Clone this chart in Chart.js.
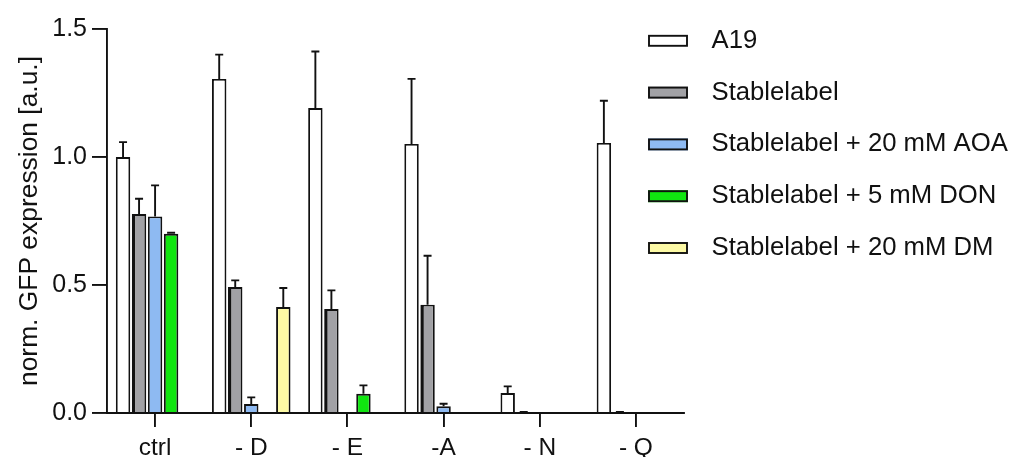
<!DOCTYPE html>
<html>
<head>
<meta charset="utf-8">
<title>GFP expression</title>
<script src="https://cdn.jsdelivr.net/npm/chart.js@4"></script>
<style>
  html, body { margin: 0; padding: 0; background: #fff; }
  #wrap { width: 1011px; height: 457px; }
</style>
</head>
<body>
<div id="wrap"><canvas id="chart"></canvas></div>
<script>
'use strict';

// amino acid dropout conditions
var conditions = ['ctrl', '- D', '- E', '-A', '- N', '- Q'];
var yTicks = [0, 0.5, 1.0, 1.5];

// mean values, null = not measured
var a19 = [1.00, 1.305, 1.191, 1.051, 0.078, 1.055];
var stablelabel = [0.777, 0.492, 0.406, 0.423, 0, 0];
var aoa = [0.768, 0.035, null, 0.026, null, null];
var don = [0.700, null, 0.075, null, null, null];
var dm = [null, 0.414, null, null, null, null];

// upper error (SD)
var a19Err = [0.058, 0.095, 0.221, 0.254, 0.026, 0.165];
var stablelabelErr = [0.060, 0.026, 0.073, 0.191, 0.004, 0.004];
var aoaErr = [0.121, 0.026, null, 0.010, null, null];
var donErr = [0.004, null, 0.033, null, null, null];
var dmErr = [null, 0.074, null, null, null, null];

Chart.defaults.font.family = "'Liberation Sans', Arial, sans-serif";
Chart.defaults.color = '#111';

function dataset(label, data, errors, color, leftBorder) {
    return {
        label: label,
        data: data,
        errors: errors,
        backgroundColor: color,
        borderColor: '#111',
        borderWidth: { top: 1.9, right: 1.9, bottom: 0, left: leftBorder || 1.9 },
        borderSkipped: false
    };
}

var errorBars = {
    id: 'errorBars',
    afterDatasetsDraw: function (chart) {
        var ctx = chart.ctx;
        var y = chart.scales.y;
        ctx.save();
        ctx.strokeStyle = '#111';
        ctx.lineWidth = 1.9;
        chart.data.datasets.forEach(function (ds, i) {
            chart.getDatasetMeta(i).data.forEach(function (bar, j) {
                var v = ds.data[j], e = ds.errors[j];
                if (v === null || e === null) return;
                var top = y.getPixelForValue(v + e);
                ctx.beginPath();
                ctx.moveTo(bar.x, y.getPixelForValue(v));
                ctx.lineTo(bar.x, top);
                ctx.moveTo(bar.x - 4, top);
                ctx.lineTo(bar.x + 4, top);
                ctx.stroke();
            });
        });
        ctx.restore();
    }
};

// legend on the right, drawn over the free space next to the bars
var sideLegend = {
    id: 'sideLegend',
    afterDraw: function (chart) {
        var ctx = chart.ctx;
        ctx.save();
        ctx.font = '25.7px ' + Chart.defaults.font.family;
        ctx.textBaseline = 'middle';
        ctx.textAlign = 'left';
        chart.data.datasets.forEach(function (ds, i) {
            var cy = 40.8 + i * 51.8;
            ctx.fillStyle = ds.backgroundColor;
            ctx.fillRect(648, cy - 6, 40, 12);
            ctx.strokeStyle = '#111';
            ctx.lineWidth = 1.9;
            ctx.strokeRect(649, cy - 5, 38, 10);
            ctx.fillStyle = '#111';
            ctx.fillText(ds.label, 711.5, cy);
        });
        ctx.restore();
    }
};

new Chart(document.getElementById('chart'), {
    type: 'bar',
    data: {
        labels: conditions,
        datasets: [
            dataset('A19', a19, a19Err, '#ffffff'),
            dataset('Stablelabel', stablelabel, stablelabelErr, '#a1a1a5', 3.5),
            dataset('Stablelabel + 20 mM AOA', aoa, aoaErr, '#8ebaf2'),
            dataset('Stablelabel + 5 mM DON', don, donErr, '#10e610'),
            dataset('Stablelabel + 20 mM DM', dm, dmErr, '#fdfaa5')
        ]
    },
    options: {
        responsive: true,
        maintainAspectRatio: false,
        animation: false,
        categoryPercentage: 0.833,
        barPercentage: 0.9,
        layout: { padding: { left: 0, top: 29, right: 327, bottom: 0 } },
        plugins: {
            legend: { display: false },
            tooltip: { enabled: false }
        },
        scales: {
            x: {
                grid: { offset: false, drawOnChartArea: false, tickLength: 14, color: '#111', lineWidth: 1.9 },
                border: { display: true, color: '#111', width: 1.9 },
                ticks: { font: { size: 24.5 }, padding: 7, color: '#111', maxRotation: 0 },
                afterFit: function (scale) { scale.height = 44; }
            },
            y: {
                min: 0,
                max: 1.5,
                afterBuildTicks: function (scale) {
                    scale.ticks = yTicks.map(function (v) { return { value: v }; });
                },
                grid: { drawOnChartArea: false, tickLength: 15, color: '#111', lineWidth: 1.9 },
                border: { display: true, color: '#111', width: 1.9 },
                ticks: {
                    font: { size: 25 },
                    padding: 5,
                    color: '#111',
                    callback: function (v) { return Number(v).toFixed(1); }
                },
                title: {
                    display: true,
                    text: 'norm. GFP expression [a.u.]',
                    font: { size: 26.4 },
                    color: '#111',
                    padding: { top: 14, bottom: 0 }
                },
                afterFit: function (scale) { scale.width = 107; }
            }
        }
    },
    plugins: [errorBars, sideLegend]
});
</script>
</body>
</html>
